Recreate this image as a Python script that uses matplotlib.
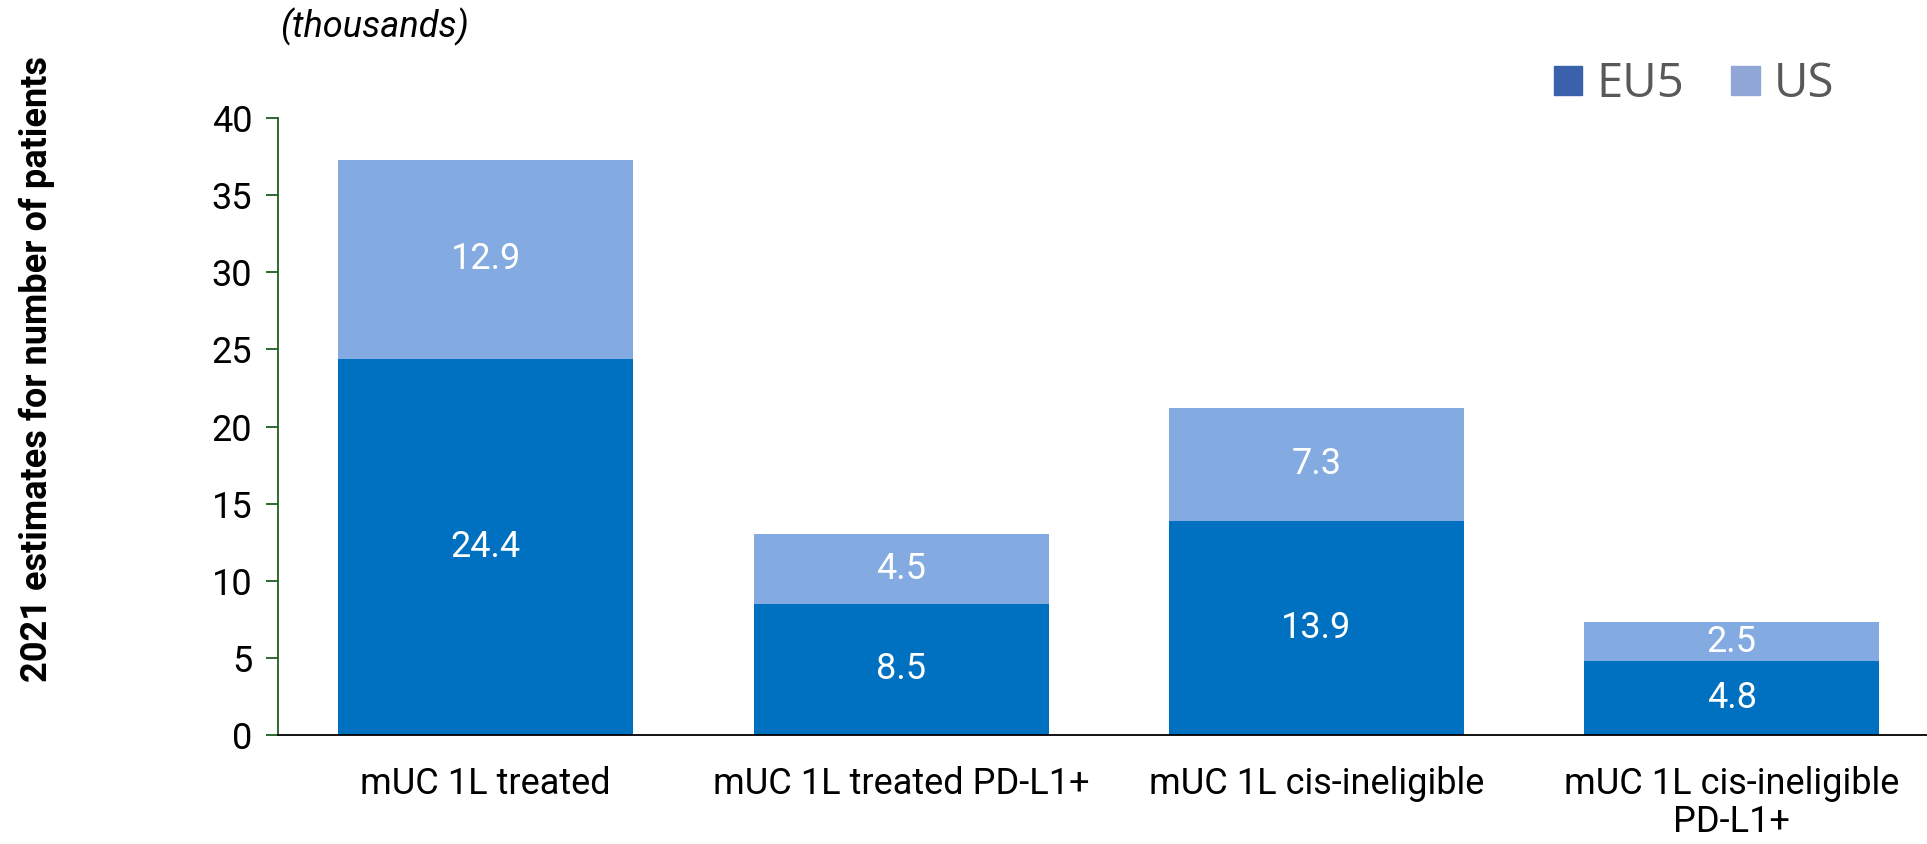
import matplotlib.pyplot as plt
import numpy as np
from matplotlib.patches import Patch

categories = ["mUC 1L treated", "mUC 1L treated PD-L1+",
              "mUC 1L cis-ineligible", "mUC 1L cis-ineligible\nPD-L1+"]
eu5 = [24.4, 8.5, 13.9, 4.8]
us = [12.9, 4.5, 7.3, 2.5]
y_ticks = [0, 5, 10, 15, 20, 25, 30, 35, 40]

EU5_COLOR = "#0070C0"
US_COLOR = "#84AAE2"
AXIS_GREEN = "#1b5e20"

fig = plt.figure(figsize=(19.27, 8.44), dpi=100)
ax = fig.add_axes([0.1443, 0.1291, 0.8557, 0.7311])

x = np.arange(len(categories))
width = 0.71

b1 = ax.bar(x, eu5, width, color=EU5_COLOR, linewidth=0)
b2 = ax.bar(x, us, width, bottom=eu5, color=US_COLOR, linewidth=0)

for bars, vals, bottoms in [(b1, eu5, [0] * 4), (b2, us, eu5)]:
    for rect, v, b in zip(bars, vals, bottoms):
        ax.text(rect.get_x() + rect.get_width() / 2, b + v / 2, f"{v:.1f}",
                ha="center", va="center", color="white", fontsize=26,
                family="Roboto")

ax.set_xlim(-0.5, 3.47)
ax.set_ylim(0, 40)
ax.set_yticks(y_ticks)
ax.set_xticks(x)
ax.set_xticklabels(categories, fontsize=26, family="Roboto", linespacing=1.1)
ax.tick_params(axis="x", length=0, pad=22)
ax.tick_params(axis="y", direction="out", length=8.5, width=1.3, color=AXIS_GREEN,
               labelsize=26, pad=10)
for lbl in ax.get_yticklabels():
    lbl.set_family("Roboto")

for side in ["top", "right"]:
    ax.spines[side].set_visible(False)
ax.spines["left"].set_color(AXIS_GREEN)
ax.spines["left"].set_linewidth(1.3)
ax.spines["bottom"].set_color("black")
ax.spines["bottom"].set_linewidth(1.3)

fig.text(0.019, 0.563, "2021 estimates for number of patients", rotation=90,
         ha="center", va="center", fontsize=26, fontweight="bold",
         family="Roboto")
fig.text(0.1455, 0.968, "(thousands)", ha="left", va="center", fontsize=26,
         style="italic", family="Roboto")

handles = [Patch(color="#3A62AC", label="EU5"), Patch(color="#8FA6D6", label="US")]
leg = ax.legend(handles=handles, ncol=2, frameon=False, loc="center right",
                bbox_to_anchor=(0.974, 0.9), bbox_transform=fig.transFigure,
                handlelength=0.6, handleheight=0.6, handletextpad=0.3,
                columnspacing=1.0, prop={"family": "Open Sans", "size": 34})
for t in leg.get_texts():
    t.set_color("#595959")

fig.savefig("out.png", dpi=100)
